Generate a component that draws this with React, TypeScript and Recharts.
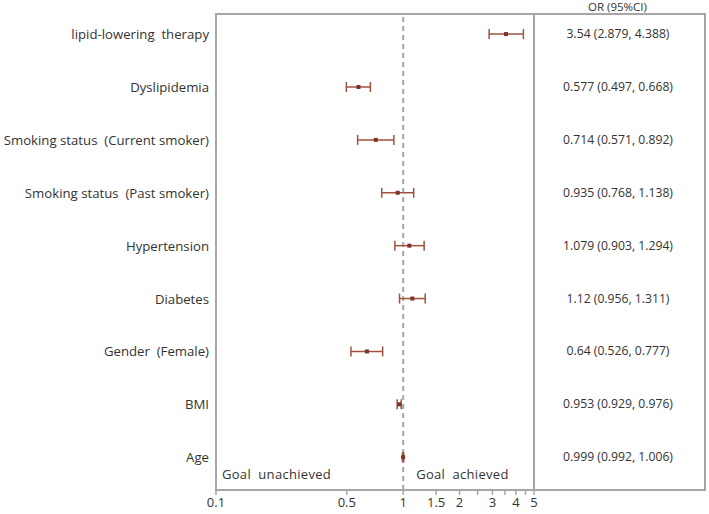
import { ScatterChart, Scatter, XAxis, YAxis, ErrorBar, ReferenceLine, ReferenceArea } from "recharts"

// Forest plot data (top row first)
const labels = [
  "lipid-lowering  therapy",
  "Dyslipidemia",
  "Smoking status  (Current smoker)",
  "Smoking status  (Past smoker)",
  "Hypertension",
  "Diabetes",
  "Gender  (Female)",
  "BMI",
  "Age",
]
const orValues = [3.54, 0.577, 0.714, 0.935, 1.079, 1.12, 0.64, 0.953, 0.999]
const ciLow = [2.879, 0.497, 0.571, 0.768, 0.903, 0.956, 0.526, 0.929, 0.992]
const ciHigh = [4.388, 0.668, 0.892, 1.138, 1.294, 1.311, 0.777, 0.976, 1.006]
const ciText = [
  "3.54 (2.879, 4.388)",
  "0.577 (0.497, 0.668)",
  "0.714 (0.571, 0.892)",
  "0.935 (0.768, 1.138)",
  "1.079 (0.903, 1.294)",
  "1.12 (0.956, 1.311)",
  "0.64 (0.526, 0.777)",
  "0.953 (0.929, 0.976)",
  "0.999 (0.992, 1.006)",
]
const xTicks = [0.1, 0.5, 1, 1.5, 2, 2.5, 3, 3.5, 4, 4.5, 5]
const xLabelled = [0.1, 0.5, 1, 1.5, 2, 3, 4, 5]

const n = labels.length
const data = labels.map((name, i) => ({
  name,
  or: orValues[i],
  y: n - 0.5 - i,
  err: [orValues[i] - ciLow[i], ciHigh[i] - orValues[i]],
}))
const yTicks = data.map((d) => d.y)
// rows sit a little above the band centres in the original
const yDomain = [-0.12, n - 0.12]

const FONT = "'Open Sans', sans-serif"
const GRID = "#a6a6a6"

const rowIndex = (v: number) => Math.round(n - 0.5 - v)

// eslint-disable-next-line
const LeftTick = ({ x, y, payload }: any) => (
  <text x={x} y={y} dy={5} textAnchor="end" fontSize={13.2} fill="#333" fontFamily={FONT} style={{ whiteSpace: "pre" }}>
    {labels[rowIndex(payload.value)]}
  </text>
)

// eslint-disable-next-line
const RightTick = ({ x, y, payload }: any) => (
  <text x={x + 84} y={y} dy={4} textAnchor="middle" fontSize={12.2} fill="#333" fontFamily={FONT}>
    {ciText[rowIndex(payload.value)]}
  </text>
)

// eslint-disable-next-line
const Dot = ({ cx, cy }: any) => <rect x={cx - 2} y={cy - 2} width={4} height={4} fill="#7b3426" />

// eslint-disable-next-line
const GoalLabel = (text: string, dx: number) => ({ viewBox }: any) => (
  <text
    x={viewBox.x + dx}
    y={viewBox.y + viewBox.height - 11}
    fontSize={13}
    fill="#333"
    fontFamily={FONT}
    style={{ whiteSpace: "pre", letterSpacing: 0.3 }}
  >
    {text}
  </text>
)

// eslint-disable-next-line
const HeaderLabel = ({ viewBox }: any) => (
  <text x={viewBox.x + viewBox.width / 2 - 2} y={11} textAnchor="middle" fontSize={11.5} fill="#333" fontFamily={FONT}>
    OR (95%CI)
  </text>
)

export default function App() {
  return (
    <div style={{ position: "absolute", left: 0, top: 0, width: 709, height: 514, background: "#fff" }}>
      <ScatterChart width={709} height={514} margin={{ top: 14, right: 4, bottom: 0, left: 0 }}>
        <XAxis
          dataKey="or"
          type="number"
          scale="log"
          domain={[0.1, 5]}
          allowDataOverflow
          ticks={xTicks}
          interval={0}
          height={24}
          tickSize={5}
          tickMargin={3}
          tickFormatter={(v: number) => (xLabelled.includes(v) ? String(v) : "")}
          axisLine={{ stroke: GRID, strokeWidth: 2 }}
          tickLine={{ stroke: GRID, strokeWidth: 1.5 }}
          tick={{ fontSize: 13, fill: "#333", fontFamily: FONT }}
        />
        <YAxis
          yAxisId="l"
          dataKey="y"
          type="number"
          domain={yDomain}
          allowDataOverflow
          ticks={yTicks}
          interval={0}
          width={216}
          tickSize={0}
          tickMargin={7}
          tickLine={false}
          axisLine={{ stroke: GRID, strokeWidth: 2 }}
          tick={<LeftTick />}
        />
        <YAxis
          yAxisId="r"
          dataKey="y"
          orientation="right"
          type="number"
          domain={yDomain}
          allowDataOverflow
          ticks={yTicks}
          interval={0}
          width={171}
          tickSize={0}
          tickMargin={0}
          tickLine={false}
          axisLine={{ stroke: GRID, strokeWidth: 2 }}
          tick={<RightTick />}
          label={<HeaderLabel />}
        />
        <ReferenceArea yAxisId="l" x1={0.1} x2={1} fill="none" fillOpacity={0} ifOverflow="visible" label={GoalLabel("Goal  unachieved", 6)} />
        <ReferenceArea yAxisId="l" x1={1} x2={5} fill="none" fillOpacity={0} ifOverflow="visible" label={GoalLabel("Goal  achieved", 13)} />
        <ReferenceLine yAxisId="l" x={1} stroke={GRID} strokeWidth={2} strokeDasharray="5 4" />
        {/* invisible series so the right-hand table axis has data */}
        <Scatter yAxisId="r" data={data} dataKey="or" shape={() => <g />} isAnimationActive={false} />
        <Scatter yAxisId="l" data={data} dataKey="or" shape={<Dot />} isAnimationActive={false}>
          <ErrorBar dataKey="err" direction="x" width={5} stroke="#a0523f" strokeWidth={1.5} />
        </Scatter>
      </ScatterChart>
      <div
        style={{
          position: "absolute",
          left: 215,
          top: 13,
          width: 491,
          height: 478,
          border: `2px solid ${GRID}`,
          boxSizing: "border-box",
          pointerEvents: "none",
        }}
      />
    </div>
  )
}
